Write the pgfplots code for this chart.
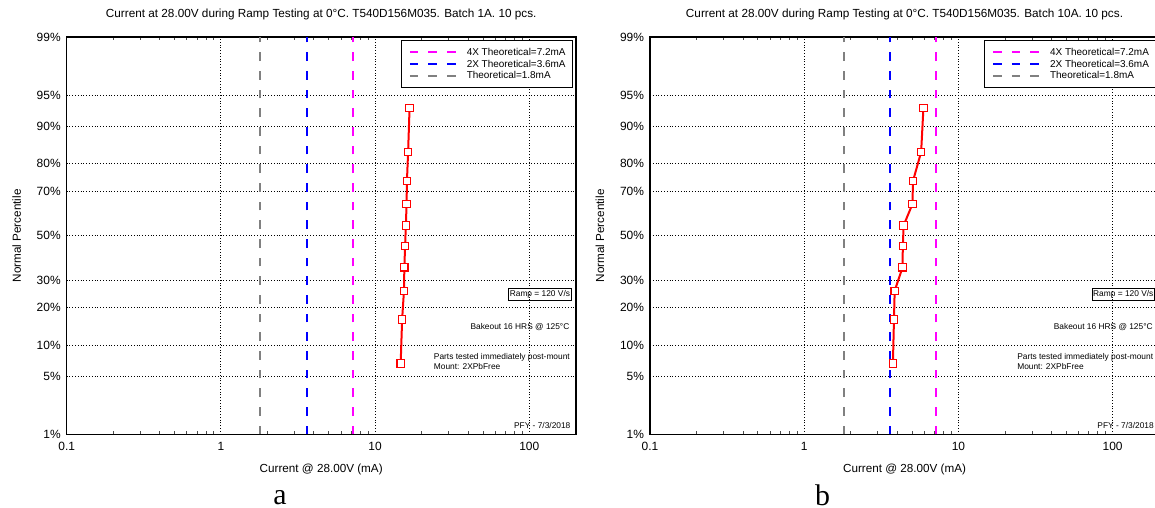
\documentclass[border=0pt]{standalone}
\usepackage{pgfplots}
\pgfplotsset{compat=1.18}
\usepackage{fontspec}
\setmainfont{Liberation Sans}
\newfontfamily\seriffont{Liberation Serif}
\definecolor{mymag}{RGB}{255,0,255}
\definecolor{myblue}{RGB}{0,0,255}
\definecolor{mygray}{RGB}{128,128,128}
\definecolor{myred}{RGB}{255,0,0}

\tikzset{
 annot/.style={font=\fontsize{6.3}{7.5}\selectfont},
 ttl/.style={font=\fontsize{8.85}{10}\selectfont, inner sep=0pt, anchor=center},
 vline/.style={line width=1.5bp, dash pattern=on 6.5bp off 7.5bp},
 datal/.style={myred, line width=1.5bp, mark=square*, mark size=2.75bp, mark options={fill=white, draw=myred, line width=0.8bp, solid}},
}

\begin{document}
\begin{tikzpicture}
\useasboundingbox (0,0) rectangle (866.25bp,381bp);

% ---------------- panel a
\begin{axis}[at={(50bp,55.125bp)},
  scale only axis, width=381.8bp, height=298.1bp,
  clip=false,
  xmode=log, xmin=0.1, xmax=200, ymin=-2.3263, ymax=2.3263,
  xtick={0.1,1,10,100}, xticklabels={0.1,1,10,100},
  minor xtick={0.2,0.3,0.4,0.5,0.6,0.7,0.8,0.9,2,3,4,5,6,7,8,9,20,30,40,50,60,70,80,90},
  ytick={-2.3263,-1.6449,-1.2816,-0.8416,-0.5244,0,0.5244,0.8416,1.2816,1.6449,2.3263},
  yticklabels={1\%,5\%,10\%,20\%,30\%,50\%,70\%,80\%,90\%,95\%,99\%},
  xmajorgrids, ymajorgrids,
  major grid style={black, line width=0.6bp, dash pattern=on 0.6bp off 1.5bp},
  axis line style={black, line width=1.2bp},
  major tick length=0pt, minor tick length=2.5bp,
  minor tick style={black!70, line width=0.5bp},
  tick label style={font=\fontsize{9}{10.8}\selectfont},
  xticklabel style={yshift=-2bp},
  yticklabel style={xshift=-1bp},
  label style={font=\fontsize{8.8}{10.5}\selectfont},
  xlabel={Current @ 28.00V (mA)},
  ylabel={Normal Percentile},
  xlabel style={at={(axis description cs:0.5,-0.0875)}, anchor=center},
  ylabel style={at={(axis description cs:-0.0982,0.5)}, anchor=center},
  legend style={
   at={(rel axis cs:0.9955,0.9925)}, anchor=north east,
   draw=black, line width=0.75bp, fill=white,
   font=\fontsize{7.5}{9}\selectfont,
   inner xsep=5.5bp, inner ysep=4.4bp,
   row sep=0bp, column sep=7.5bp,
   nodes={inner xsep=0bp, inner ysep=0.675bp, text height=6bp, text depth=1.5bp},
  },
  legend cell align=left,
  legend image code/.code={\draw[#1] (0bp,0bp) -- (34.5bp,0bp);},
]
\addplot[vline, mymag] coordinates {(7.2,-2.3263) (7.2,2.3263)};
\addlegendentry{4X Theoretical=7.2mA}
\addplot[vline, myblue] coordinates {(3.6,-2.3263) (3.6,2.3263)};
\addlegendentry{2X Theoretical=3.6mA}
\addplot[vline, mygray] coordinates {(1.8,-2.3263) (1.8,2.3263)};
\addlegendentry{Theoretical=1.8mA}
\addplot[datal, forget plot] coordinates {
 (14.65,-1.4962) (14.97,-0.9803) (15.39,-0.6445) (15.48,-0.3698) (15.65,-0.1208)
 (15.83,0.1208) (16.00,0.3698) (16.09,0.6445) (16.37,0.9803) (16.73,1.4962)};
\node[ttl] at (axis description cs:0.5,1.0579) {Current at 28.00V during Ramp Testing at 0°C. T540D156M035. Batch 1A. 10 pcs.};
\node[annot, draw=black, line width=0.6bp, anchor=east, inner xsep=0.9bp, inner ysep=1.55bp, text height=4.6bp, text depth=1.3bp] at (rel axis cs:0.992,0.3525) {Ramp = 120 V/s};
\node[annot, anchor=east, inner sep=0pt] at (rel axis cs:0.988,0.271) {Bakeout 16 HRS @ 125°C};
\node[annot, anchor=west, inner sep=0pt, align=left] at (rel axis cs:0.721,0.183) {Parts tested immediately post-mount\\Mount: 2XPbFree};
\node[annot, anchor=east, inner sep=0pt] at (rel axis cs:0.990,0.0214) {PFY - 7/3/2018};
\node[font=\seriffont\fontsize{22.5}{24}\selectfont, inner sep=0pt] at (axis description cs:0.419,-0.158) {a};
\end{axis}

% ---------------- panel b
\begin{axis}[at={(487.5bp,55.125bp)},
  scale only axis, width=381.8bp, height=298.1bp,
  clip=false,
  xmode=log, xmin=0.1, xmax=200, ymin=-2.3263, ymax=2.3263,
  xtick={0.1,1,10,100}, xticklabels={0.1,1,10,100},
  minor xtick={0.2,0.3,0.4,0.5,0.6,0.7,0.8,0.9,2,3,4,5,6,7,8,9,20,30,40,50,60,70,80,90},
  ytick={-2.3263,-1.6449,-1.2816,-0.8416,-0.5244,0,0.5244,0.8416,1.2816,1.6449,2.3263},
  yticklabels={1\%,5\%,10\%,20\%,30\%,50\%,70\%,80\%,90\%,95\%,99\%},
  xmajorgrids, ymajorgrids,
  major grid style={black, line width=0.6bp, dash pattern=on 0.6bp off 1.5bp},
  axis line style={black, line width=1.2bp},
  major tick length=0pt, minor tick length=2.5bp,
  minor tick style={black!70, line width=0.5bp},
  tick label style={font=\fontsize{9}{10.8}\selectfont},
  xticklabel style={yshift=-2bp},
  yticklabel style={xshift=-1bp},
  label style={font=\fontsize{8.8}{10.5}\selectfont},
  xlabel={Current @ 28.00V (mA)},
  ylabel={Normal Percentile},
  xlabel style={at={(axis description cs:0.5,-0.0875)}, anchor=center},
  ylabel style={at={(axis description cs:-0.0982,0.5)}, anchor=center},
  legend style={
   at={(rel axis cs:0.9955,0.9925)}, anchor=north east,
   draw=black, line width=0.75bp, fill=white,
   font=\fontsize{7.5}{9}\selectfont,
   inner xsep=5.5bp, inner ysep=4.4bp,
   row sep=0bp, column sep=7.5bp,
   nodes={inner xsep=0bp, inner ysep=0.675bp, text height=6bp, text depth=1.5bp},
  },
  legend cell align=left,
  legend image code/.code={\draw[#1] (0bp,0bp) -- (34.5bp,0bp);},
]
\addplot[vline, mymag] coordinates {(7.2,-2.3263) (7.2,2.3263)};
\addlegendentry{4X Theoretical=7.2mA}
\addplot[vline, myblue] coordinates {(3.6,-2.3263) (3.6,2.3263)};
\addlegendentry{2X Theoretical=3.6mA}
\addplot[vline, mygray] coordinates {(1.8,-2.3263) (1.8,2.3263)};
\addlegendentry{Theoretical=1.8mA}
\addplot[datal, forget plot] coordinates {
 (3.76,-1.4962) (3.82,-0.9803) (3.86,-0.6445) (4.34,-0.3698) (4.36,-0.1208)
 (4.41,0.1208) (5.03,0.3698) (5.08,0.6445) (5.73,0.9803) (5.93,1.4962)};
\node[ttl] at (axis description cs:0.5,1.0579) {Current at 28.00V during Ramp Testing at 0°C. T540D156M035. Batch 10A. 10 pcs.};
\node[annot, draw=black, line width=0.6bp, anchor=east, inner xsep=0.9bp, inner ysep=1.55bp, text height=4.6bp, text depth=1.3bp] at (rel axis cs:0.992,0.3525) {Ramp = 120 V/s};
\node[annot, anchor=east, inner sep=0pt] at (rel axis cs:0.988,0.271) {Bakeout 16 HRS @ 125°C};
\node[annot, anchor=west, inner sep=0pt, align=left] at (rel axis cs:0.721,0.183) {Parts tested immediately post-mount\\Mount: 2XPbFree};
\node[annot, anchor=east, inner sep=0pt] at (rel axis cs:0.990,0.0214) {PFY - 7/3/2018};
\node[font=\seriffont\fontsize{22.5}{24}\selectfont, inner sep=0pt] at (axis description cs:0.339,-0.154) {b};
\end{axis}
\end{tikzpicture}
\end{document}
